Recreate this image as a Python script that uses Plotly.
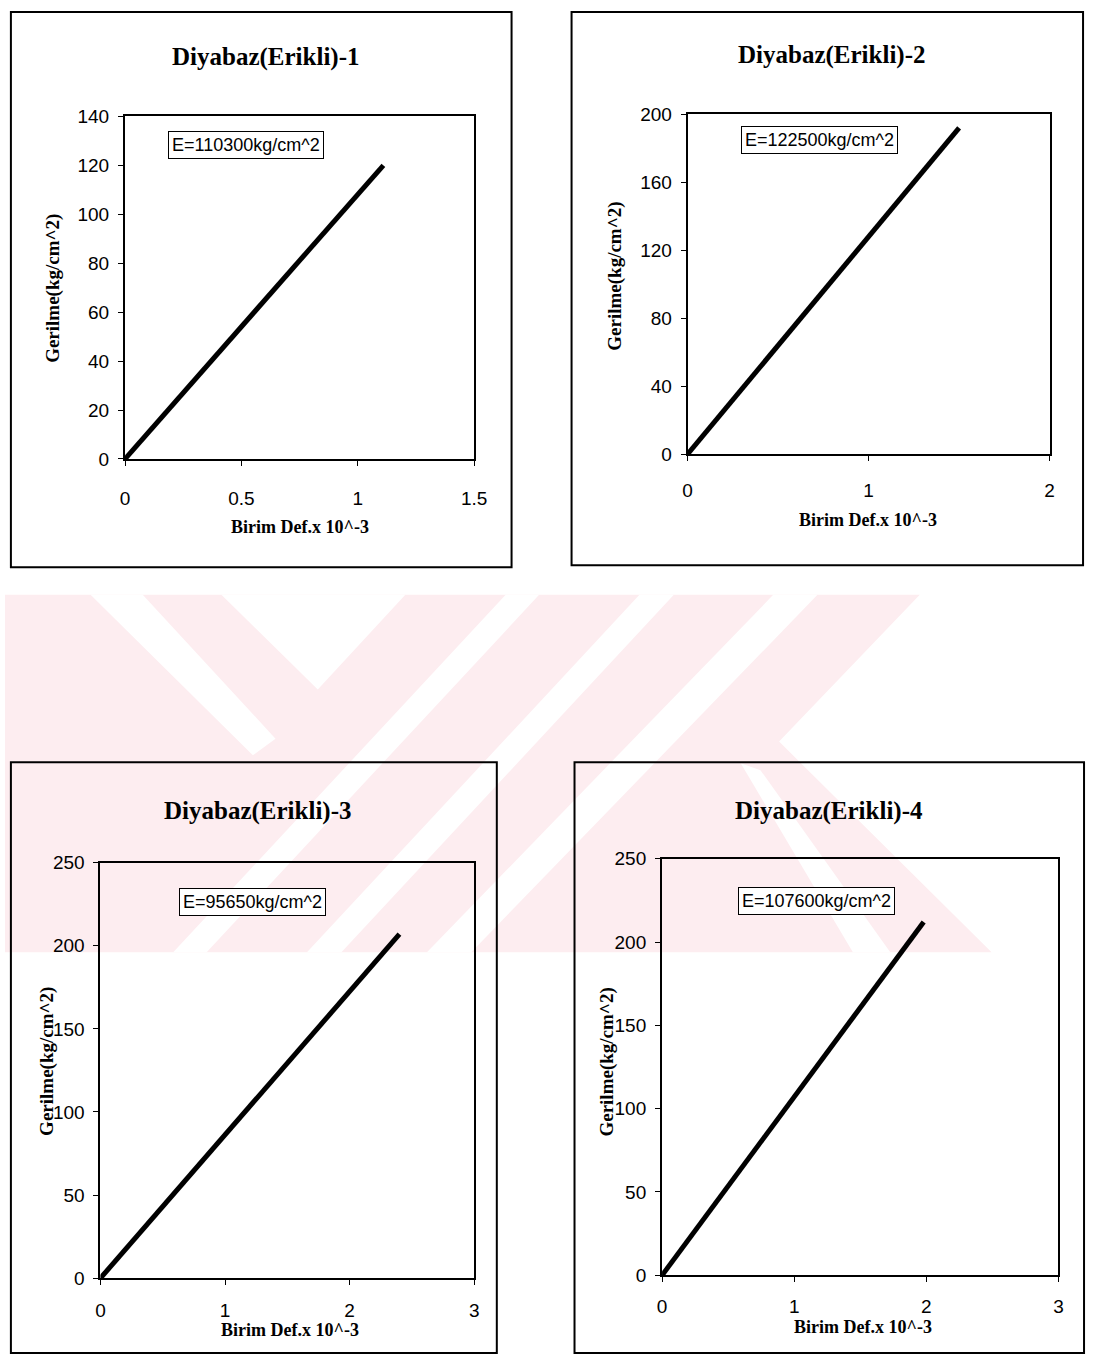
import plotly.graph_objects as go

# ---------------- data ----------------
titles = ["Diyabaz(Erikli)-1", "Diyabaz(Erikli)-2", "Diyabaz(Erikli)-3", "Diyabaz(Erikli)-4"]
e_labels = ["E=110300kg/cm^2", "E=122500kg/cm^2", "E=95650kg/cm^2", "E=107600kg/cm^2"]
x_title = "Birim Def.x 10^-3"
y_title = "Gerilme(kg/cm^2)"

strain_1 = [0, 1.11]
stress_1 = [0, 120]
strain_2 = [0, 1.5]
stress_2 = [0, 192]
strain_3 = [0, 2.4]
stress_3 = [0, 207]
strain_4 = [0, 1.98]
stress_4 = [0, 212]

x_ticks_1 = [0, 0.5, 1, 1.5]
x_ticklabels_1 = ["0", "0.5", "1", "1.5"]
y_ticks_1 = [0, 20, 40, 60, 80, 100, 120, 140]
x_ticks_2 = [0, 1, 2]
y_ticks_2 = [0, 40, 80, 120, 160, 200]
x_ticks_3 = [0, 1, 2, 3]
y_ticks_3 = [0, 50, 100, 150, 200, 250]
x_ticks_4 = [0, 1, 2, 3]
y_ticks_4 = [0, 50, 100, 150, 200, 250]

# ---------------- layout geometry (pixels) ----------------
W, H = 1099, 1366


def px(x):
    return x / W


def py(y):
    return 1 - y / H


panels = [
    dict(sx=strain_1, sy=stress_1, xt=x_ticks_1, xtl=x_ticklabels_1, yt=y_ticks_1,
         box=(122, 477, 108, 456), frame=(6, 515, 2, 566),
         title=(265, 48), xlab=(300, 525), ylab=(48, 283), ebox=(245, 137), xstand=16),
    dict(sx=strain_2, sy=stress_2, xt=x_ticks_2, xtl=[str(v) for v in x_ticks_2], yt=y_ticks_2,
         box=(694, 1062, 106, 451), frame=(576, 1096, 2, 564),
         title=(841, 46), xlab=(877, 518), ylab=(620, 270), ebox=(828, 132), xstand=13),
    dict(sx=strain_3, sy=stress_3, xt=x_ticks_3, xtl=[str(v) for v in x_ticks_3], yt=y_ticks_3,
         box=(97, 477, 866, 1288), frame=(6, 500, 764, 1364),
         title=(257, 813), xlab=(290, 1341), ylab=(42, 1068), ebox=(252, 906), xstand=9),
    dict(sx=strain_4, sy=stress_4, xt=x_ticks_4, xtl=[str(v) for v in x_ticks_4], yt=y_ticks_4,
         box=(668, 1071, 862, 1285), frame=(579, 1097, 764, 1364),
         title=(838, 814), xlab=(872, 1338), ylab=(612, 1068), ebox=(825, 905), xstand=8),
]

fig = go.Figure()
annotations = []
shapes = []

# ---------------- faint watermark ----------------
PINK = "#fdedf0"


def poly(points, color):
    path = "M " + " L ".join(f"{px(x):.5f},{py(y):.5f}" for x, y in points) + " Z"
    return dict(type="path", path=path, xref="paper", yref="paper",
                fillcolor=color, line=dict(width=0), layer="below")


shapes.append(poly([(0, 594), (930, 594), (787, 743), (1003, 957), (0, 957)], PINK))
gaps = [
    [(87, 594), (140, 594), (275, 740), (252, 757)],
    [(220, 594), (407, 594), (318, 690)],
    [(509, 594), (543, 594), (205, 957), (171, 957)],
    [(645, 594), (680, 594), (342, 957), (307, 957)],
    [(781, 594), (826, 594), (474, 957), (429, 957)],
    [(748, 765), (768, 772), (900, 957), (862, 957)],
]
for g in gaps:
    shapes.append(poly(g, "white"))

# ---------------- panels ----------------
for i, p in enumerate(panels, start=1):
    xa = "x" if i == 1 else f"x{i}"
    ya = "y" if i == 1 else f"y{i}"
    l, r, t, b = p["box"]
    fig.add_trace(go.Scatter(x=p["sx"], y=p["sy"], mode="lines",
                             line=dict(color="black", width=5),
                             xaxis=xa, yaxis=ya, showlegend=False, hoverinfo="skip"))
    axis_common = dict(showline=True, mirror=True, linecolor="black", linewidth=2,
                       ticks="outside", ticklen=5, tickwidth=1, tickcolor="black",
                       showgrid=False, zeroline=False,
                       tickfont=dict(family="Liberation Sans, Arial, sans-serif", size=19, color="black"))
    fig.update_layout(**{
        ("xaxis" if i == 1 else f"xaxis{i}"): dict(
            domain=[px(l), px(r)], anchor=ya, range=[p["xt"][0], p["xt"][-1]],
            tickmode="array", tickvals=p["xt"], ticktext=p["xtl"],
            ticklabelstandoff=p["xstand"], **axis_common),
        ("yaxis" if i == 1 else f"yaxis{i}"): dict(
            domain=[py(b), py(t)], anchor=xa, range=[p["yt"][0], p["yt"][-1]],
            tickmode="array", tickvals=p["yt"], ticktext=[str(v) for v in p["yt"]],
            ticklabelstandoff=5, **axis_common),
    })
    fl, fr, ft, fb = p["frame"]
    shapes.append(dict(type="rect", xref="paper", yref="paper",
                       x0=px(fl), x1=px(fr), y0=py(fb), y1=py(ft),
                       line=dict(color="black", width=2), fillcolor="rgba(0,0,0,0)", layer="above"))
    tx, ty = p["title"]
    annotations.append(dict(x=px(tx), y=py(ty), xref="paper", yref="paper", text=f"<b>{titles[i-1]}</b>",
                            showarrow=False, xanchor="center", yanchor="middle",
                            font=dict(family="Liberation Serif, Times New Roman, serif", size=25, color="black")))
    xx, xy = p["xlab"]
    annotations.append(dict(x=px(xx), y=py(xy), xref="paper", yref="paper", text=f"<b>{x_title}</b>",
                            showarrow=False, xanchor="center", yanchor="middle",
                            font=dict(family="Liberation Serif, Times New Roman, serif", size=18, color="black")))
    yx, yy = p["ylab"]
    annotations.append(dict(x=px(yx), y=py(yy), xref="paper", yref="paper", text=f"<b>{y_title}</b>",
                            showarrow=False, xanchor="center", yanchor="middle", textangle=-90,
                            font=dict(family="Liberation Serif, Times New Roman, serif", size=19, color="black")))
    ex, ey = p["ebox"]
    annotations.append(dict(x=px(ex), y=py(ey), xref="paper", yref="paper", text=e_labels[i-1],
                            showarrow=False, xanchor="center", yanchor="middle",
                            bgcolor="white", bordercolor="black", borderwidth=1, borderpad=3,
                            font=dict(family="Liberation Sans, Arial, sans-serif", size=18, color="black")))

fig.update_layout(autosize=True, margin=dict(l=0, r=0, t=0, b=0),
                  paper_bgcolor="white", plot_bgcolor="rgba(0,0,0,0)",
                  showlegend=False, annotations=annotations, shapes=shapes)

post = (
    "document.documentElement.style.margin='0px';document.body.style.margin='0px';"
    "document.documentElement.style.overflow='hidden';document.body.style.overflow='hidden';"
    "var d=document.getElementById('{plot_id}');"
    "d.style.position='fixed';d.style.top='0px';d.style.left='0px';"
    "d.style.width=window.innerWidth+'px';d.style.height=window.innerHeight+'px';"
    "Plotly.Plots.resize(d);"
)
fig.write_html("out.html", config={"displayModeBar": False, "responsive": True},
               default_width="100vw", default_height="100vh", post_script=post)
